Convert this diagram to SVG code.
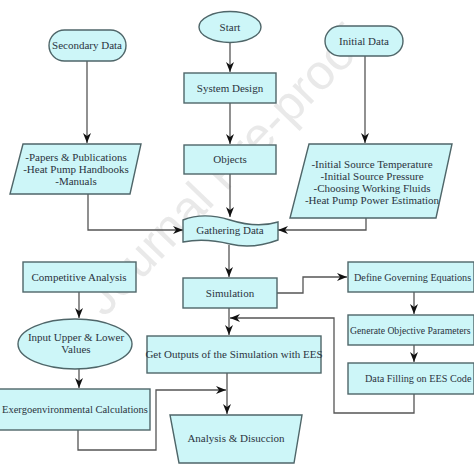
<svg xmlns="http://www.w3.org/2000/svg" width="474" height="474" viewBox="0 0 474 474">
<defs>
<marker id="ah" markerWidth="10" markerHeight="8" refX="10" refY="4" orient="auto" markerUnits="userSpaceOnUse">
<path d="M0,0 L10,4 L0,8 L3,4 Z" fill="#111"/>
</marker>
<style>
.n{fill:#cdf6f8;stroke:#4f6669;stroke-width:1.4}
.t{font-family:"Liberation Serif","Times New Roman",serif;font-size:11px;fill:#2b3440;text-anchor:middle}
.s{text-anchor:start;font-size:10.2px}
.c{fill:none;stroke:#555;stroke-width:1.3}
.wm{font-family:"Liberation Sans",Arial,sans-serif;font-size:49px;fill:#e9e9e9;text-anchor:middle}
</style>
</defs>
<rect width="474" height="474" fill="#fff"/>
<text class="wm" transform="translate(236,182) rotate(-46)">Journal Pre-proof</text>
<g id="connectors">
<path class="c" d="M230,42 V72" marker-end="url(#ah)"/>
<path class="c" d="M230,103 V144" marker-end="url(#ah)"/>
<path class="c" d="M230,174 V217" marker-end="url(#ah)"/>
<path class="c" d="M87,61 V143" marker-end="url(#ah)"/>
<path class="c" d="M365,56 V143" marker-end="url(#ah)"/>
<path class="c" d="M88,194 V230 H183" marker-end="url(#ah)"/>
<path class="c" d="M366,218 V230 H278" marker-end="url(#ah)"/>
<path class="c" d="M229,245 V277" marker-end="url(#ah)"/>
<path class="c" d="M229,308 V335" marker-end="url(#ah)"/>
<path class="c" d="M277,293 H303 V277 H347" marker-end="url(#ah)"/>
<path class="c" d="M414,292 V314" marker-end="url(#ah)"/>
<path class="c" d="M414,345 V362" marker-end="url(#ah)"/>
<path class="c" d="M414,394 V413 H334 V318 H230" marker-end="url(#ah)"/>
<path class="c" d="M79,292 V318" marker-end="url(#ah)"/>
<path class="c" d="M79,369 V388" marker-end="url(#ah)"/>
<path class="c" d="M78,430 V450 H156 V390 H226" marker-end="url(#ah)"/>
<path class="c" d="M227,373 V414" marker-end="url(#ah)"/>
</g>
<g id="start"><ellipse class="n" cx="230" cy="27" rx="31" ry="15.5"/><text class="t" x="230" y="31">Start</text></g>
<g id="system-design"><rect class="n" x="184" y="73" width="92" height="30"/><text class="t" x="230" y="92">System Design</text></g>
<g id="objects"><rect class="n" x="184" y="145" width="92" height="29"/><text class="t" x="230" y="163">Objects</text></g>
<g id="secondary-data"><rect class="n" x="49" y="30" width="77" height="31" rx="15.5"/><text class="t" x="87" y="49">Secondary Data</text></g>
<g id="initial-data"><rect class="n" x="325" y="26" width="78" height="30" rx="15"/><text class="t" x="364" y="45">Initial Data</text></g>
<g id="secondary-list"><path class="n" d="M23,144 H141 L130,194 H10 Z"/>
<text class="t" x="76" y="161">-Papers &amp; Publications</text>
<text class="t" x="76" y="173">-Heat Pump Handbooks</text>
<text class="t" x="76" y="185">-Manuals</text></g>
<g id="initial-list"><path class="n" d="M309,144 H452 L436,218 H290 Z"/>
<text class="t" x="372" y="168">-Initial Source Temperature</text>
<text class="t" x="372" y="180">-Initial Source Pressure</text>
<text class="t" x="372" y="192">-Choosing Working Fluids</text>
<text class="t" x="372" y="204">-Heat Pump Power Estimation</text></g>
<g id="gathering-data"><path class="n" d="M183,220 C198,214 214,215 230,220 S262,227 278,222 V240 C262,246 246,248 230,244 S198,239 183,242 Z"/><text class="t" x="230" y="234">Gathering Data</text></g>
<g id="simulation"><rect class="n" x="183" y="278" width="94" height="30"/><text class="t" x="230" y="297">Simulation</text></g>
<g id="get-outputs"><rect class="n" x="147" y="336" width="174" height="37"/><text class="t" x="234" y="358">Get Outputs of the Simulation with EES</text></g>
<g id="analysis"><path class="n" d="M170,415 H302 L294,463 H179 Z"/><text class="t" x="236" y="442">Analysis &amp; Disuccion</text></g>
<g id="define-equations"><rect class="n" x="348" y="262" width="126" height="30"/><text class="t s" x="354" y="281">Define Governing Equations</text></g>
<g id="generate-params"><rect class="n" x="348" y="315" width="126" height="30"/><text class="t s" x="350" y="334" style="font-size:9.7px">Generate Objective Parameters</text></g>
<g id="data-filling"><rect class="n" x="348" y="363" width="126" height="31"/><text class="t s" x="365" y="382">Data Filling on EES Code</text></g>
<g id="competitive"><rect class="n" x="23" y="262" width="113" height="30"/><text class="t" x="79" y="281">Competitive Analysis</text></g>
<g id="input-values"><ellipse class="n" cx="75" cy="344" rx="57" ry="25"/><text class="t" x="76" y="341">Input Upper &amp; Lower</text><text class="t" x="76" y="353">Values</text></g>
<g id="exergo"><rect class="n" x="-1" y="389" width="151" height="41"/><text class="t" x="75" y="413" style="font-size:10.5px">Exergoenvironmental Calculations</text></g>
</svg>
